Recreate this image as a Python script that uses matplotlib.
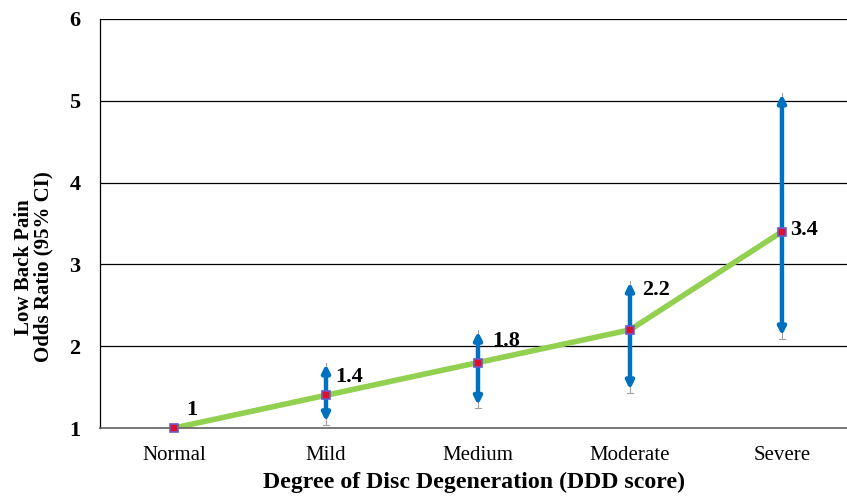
import matplotlib.pyplot as plt

categories = ['Normal', 'Mild', 'Medium', 'Moderate', 'Severe']
odds = [1, 1.4, 1.8, 2.2, 3.4]
ci_low = [1, 1.04, 1.24, 1.43, 2.09]
ci_high = [1, 1.8, 2.2, 2.8, 5.1]
labels = ['1', '1.4', '1.8', '2.2', '3.4']

plt.rcParams['font.family'] = ['Liberation Serif', 'DejaVu Serif']

fig = plt.figure(figsize=(8.47, 4.97), dpi=100)
ax = fig.add_axes([100 / 847, 69 / 497, 747 / 847, 409 / 497])

x = list(range(len(categories)))

# grid
for v in range(2, 7):
    ax.axhline(v, color='black', lw=0.9, zorder=0)

# thin grey whiskers behind the arrows
for i in x[1:]:
    ax.plot([i, i], [ci_low[i], ci_high[i]], color='#a0a0a0', lw=0.8, zorder=1)
    ax.plot([i - 0.02, i + 0.02], [ci_low[i], ci_low[i]], color='#a0a0a0', lw=0.8, zorder=1)

# trend line
ax.plot(x, odds, color='#92D050', lw=4, solid_capstyle='butt', zorder=2)

# CI arrows
for i in x[1:]:
    ax.annotate('', xy=(i, ci_high[i] - 0.02), xytext=(i, ci_low[i] + 0.04),
                arrowprops=dict(arrowstyle='<|-|>', color='#0070C0', lw=3.2,
                                mutation_scale=11, shrinkA=0, shrinkB=0),
                zorder=3)

# points
ax.plot(x, odds, ls='none', marker='s', ms=6, mfc='#E0102A', mec='#6A5ACD',
        mew=1.2, zorder=4, clip_on=False)

# value labels
offsets = [(12, 18), (9, 18), (14, 22), (12, 40), (8, 2)]
for i in x:
    ax.annotate(labels[i], (i, odds[i]), xytext=offsets[i], textcoords='offset pixels',
                fontsize=16, fontweight='bold', ha='left', va='center')

ax.set_xlim(-0.487, 4.428)
ax.set_ylim(1, 6)
ax.set_xticks(x)
ax.set_xticklabels(categories, fontsize=15)
ax.set_yticks(range(1, 7))
ax.set_yticklabels([str(v) for v in range(1, 7)], fontsize=16, fontweight='bold')
ax.tick_params(length=0, pad=13)
ax.tick_params(axis='y', pad=14)

for s in ['top', 'right']:
    ax.spines[s].set_visible(False)
ax.spines['left'].set_linewidth(0.9)
ax.spines['bottom'].set_color('#606060')
ax.spines['bottom'].set_linewidth(1.2)

ax.set_xlabel('Degree of Disc Degeneration (DDD score)', fontsize=17.2, fontweight='bold', labelpad=5)
ax.set_ylabel('Low Back Pain\nOdds Ratio (95% CI)', fontsize=15, fontweight='bold',
              linespacing=1.0)
ax.yaxis.set_label_coords(-0.062, 0.394)

fig.savefig('out.png', dpi=100)
